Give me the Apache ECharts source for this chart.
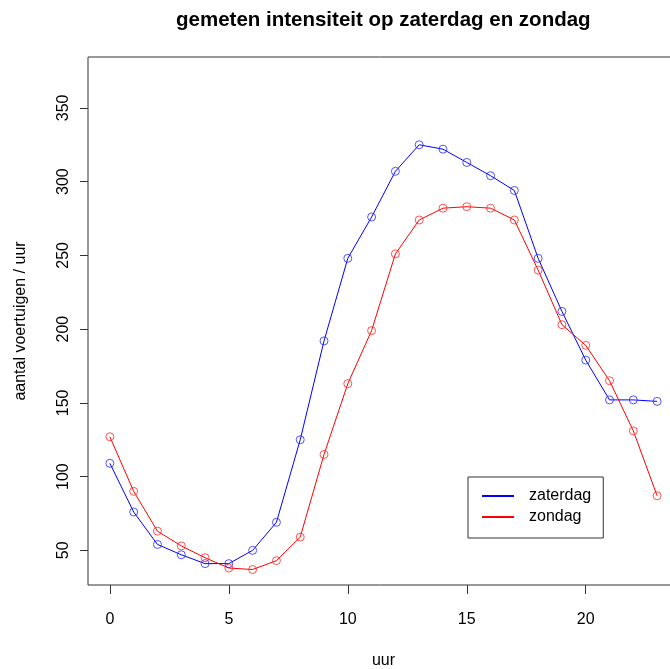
<!DOCTYPE html>
<html>
<head>
<meta charset="utf-8">
<script src="https://cdn.jsdelivr.net/npm/echarts@6/dist/echarts.min.js"></script>
<style>
html,body{margin:0;padding:0;background:#fff;}
#chart{width:670px;height:669px;}
</style>
</head>
<body>
<div id="chart"></div>
<script>
const hours = [0,1,2,3,4,5,6,7,8,9,10,11,12,13,14,15,16,17,18,19,20,21,22,23];
const zaterdag = [109,76,54,47,41,41,50,69,125,192,248,276,307,325,322,313,304,294,248,212,179,152,152,151];
const zondag = [127,90,63,53,45,38,37,43,59,115,163,199,251,274,282,283,282,274,240,203,189,165,131,87];
const xTicks = [0,5,10,15,20];
const yTicks = [50,100,150,200,250,300,350];
const seriesNames = ['zaterdag','zondag'];

const FONT = '"Liberation Sans", Arial, sans-serif';
const chart = echarts.init(document.getElementById('chart'), null, {renderer:'canvas'});

function mk(name, vals, color, symColor){
  return {
    name: name,
    type: 'line',
    data: hours.map((h,i)=>[h, vals[i]]),
    symbol: 'circle',
    symbolSize: 8,
    showAllSymbol: true,
    lineStyle: {color: color, width: 1},
    itemStyle: {color: 'rgba(0,0,0,0)', borderColor: symColor, borderWidth: 1},
    emphasis: {disabled: true},
    animation: false,
    clip: false
  };
}

chart.setOption({
  animation: false,
  backgroundColor: '#fff',
  title: {
    text: 'gemeten intensiteit op zaterdag en zondag',
    left: 176, top: 10, padding: 0,
    textStyle: {fontFamily: FONT, fontSize: 20.5, fontWeight: 'bold', color: '#000'}
  },
  legend: {
    orient: 'vertical',
    left: 468, top: 477,
    padding: [11, 12, 13, 14],
    itemGap: 5,
    itemWidth: 32, itemHeight: 2,
    icon: 'rect',
    backgroundColor: '#fff',
    borderColor: '#333', borderWidth: 1,
    textStyle: {fontFamily: FONT, fontSize: 16, color: '#000', padding: [0,0,0,10]},
    data: [
      {name: seriesNames[0], itemStyle: {color: '#0000ff', borderWidth: 0}},
      {name: seriesNames[1], itemStyle: {color: '#ff0000', borderWidth: 0}}
    ]
  },
  grid: {
    left: 88, top: 57, right: -9, bottom: 84,
    outerBoundsMode: 'none',
    containLabel: false,
    show: true, borderColor: '#333', borderWidth: 1, backgroundColor: 'transparent'
  },
  xAxis: {
    type: 'value',
    min: -0.92, max: 23.92,
    name: 'uur',
    nameLocation: 'middle',
    nameGap: 68,
    nameTextStyle: {fontFamily: FONT, fontSize: 16, color: '#000'},
    axisLine: {show: false, onZero: false},
    axisTick: {show: true, length: 9, customValues: xTicks, lineStyle: {color: '#333'}},
    axisLabel: {show: true, customValues: xTicks, margin: 27, fontFamily: FONT, fontSize: 16, color: '#000'},
    splitLine: {show: false}
  },
  yAxis: {
    type: 'value',
    min: 26.5, max: 384.5,
    name: 'aantal voertuigen / uur',
    nameLocation: 'middle',
    nameGap: 59,
    nameTextStyle: {fontFamily: FONT, fontSize: 16, color: '#000'},
    axisLine: {show: false, onZero: false},
    axisTick: {show: true, length: 8, customValues: yTicks, lineStyle: {color: '#333'}},
    axisLabel: {show: true, customValues: yTicks, rotate: 90, margin: 16, fontFamily: FONT, fontSize: 16, color: '#000'},
    splitLine: {show: false}
  },
  series: [
    mk(seriesNames[0], zaterdag, '#0000ff', 'rgba(40,40,255,0.8)'),
    mk(seriesNames[1], zondag, '#ff0000', 'rgba(255,40,40,0.8)')
  ]
});
</script>
</body>
</html>
